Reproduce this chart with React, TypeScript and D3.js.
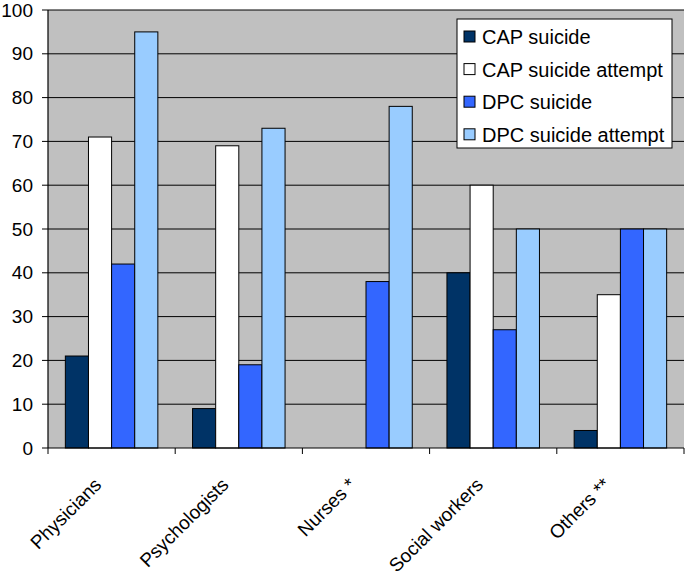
import React from "react";
import * as d3 from "d3";

const categories = ["Physicians", "Psychologists", "Nurses *", "Social workers", "Others **"];
const seriesNames = ["CAP suicide", "CAP suicide attempt", "DPC suicide", "DPC suicide attempt"];
const capSuicide = [21, 9, 0, 40, 4];
const capAttempt = [71, 69, 0, 60, 35];
const dpcSuicide = [42, 19, 38, 27, 50];
const dpcAttempt = [95, 73, 78, 50, 50];
const yTicks = [0, 10, 20, 30, 40, 50, 60, 70, 80, 90, 100];
const colors = ["#003366", "#FFFFFF", "#3366FF", "#99CCFF"];

const W = 685, H = 576;
const left = 48, right = 684, top = 10, bottom = 448;

export default function App() {
  const series = [capSuicide, capAttempt, dpcSuicide, dpcAttempt];
  const x0 = d3.scaleBand<string>().domain(categories).range([left, right]).paddingInner(0).paddingOuter(0);
  const bw = x0.bandwidth();
  const barW = bw / 5.5;
  const y = d3.scaleLinear().domain([0, 100]).range([bottom, top]);
  const font = "'Liberation Sans', Arial, sans-serif";
  const edges = [...categories.map((c) => x0(c)!), right];

  return (
    <svg width={W} height={H} style={{ position: "absolute", left: 0, top: 0, background: "#fff" }} fontFamily={font}>
      <rect x={left} y={top} width={right - left} height={bottom - top} fill="#C0C0C0" />
      {yTicks.filter((t) => t > 0).map((t) => (
        <line key={t} x1={left} x2={right} y1={y(t)} y2={y(t)} stroke="#000" strokeWidth={1} />
      ))}
      {categories.map((c, ci) =>
        series.map((s, si) => {
          const v = s[ci];
          if (!v) return null;
          const bx = x0(c)! + barW * 0.75 + si * barW;
          return (
            <rect key={c + si} x={bx} y={y(v)} width={barW} height={y(0) - y(v)} fill={colors[si]} stroke="#000" strokeWidth={1} />
          );
        })
      )}
      {/* axes */}
      <line x1={left} x2={left} y1={top} y2={bottom} stroke="#000" strokeWidth={1.2} />
      <line x1={left} x2={right} y1={bottom} y2={bottom} stroke="#000" strokeWidth={1.2} />
      {yTicks.map((t) => (
        <g key={t}>
          <line x1={left - 6} x2={left} y1={y(t)} y2={y(t)} stroke="#000" strokeWidth={1} />
          <text x={33} y={y(t)} dy="0.35em" textAnchor="end" fontSize={19} fill="#000">{t}</text>
        </g>
      ))}
      {edges.map((e, i) => (
        <line key={i} x1={e} x2={e} y1={bottom} y2={bottom + 6} stroke="#000" strokeWidth={1} />
      ))}
      {categories.map((c) => {
        const cx = x0(c)! + bw / 2 - 9;
        const cy = 486;
        return (
          <text key={c} x={cx} y={cy} textAnchor="end" fontSize={19} transform={`rotate(-45 ${cx} ${cy})`} fill="#000">{c}</text>
        );
      })}
      {/* legend */}
      <rect x={457} y={19} width={215} height={129} fill="#fff" stroke="#000" strokeWidth={1} />
      {seriesNames.map((n, i) => {
        const ly = 37 + i * 32.6;
        return (
          <g key={n}>
            <rect x={464} y={ly - 6} width={11} height={11} fill={colors[i]} stroke="#000" strokeWidth={1} />
            <text x={482} y={ly} dy="0.35em" fontSize={20} fill="#000">{n}</text>
          </g>
        );
      })}
    </svg>
  );
}
